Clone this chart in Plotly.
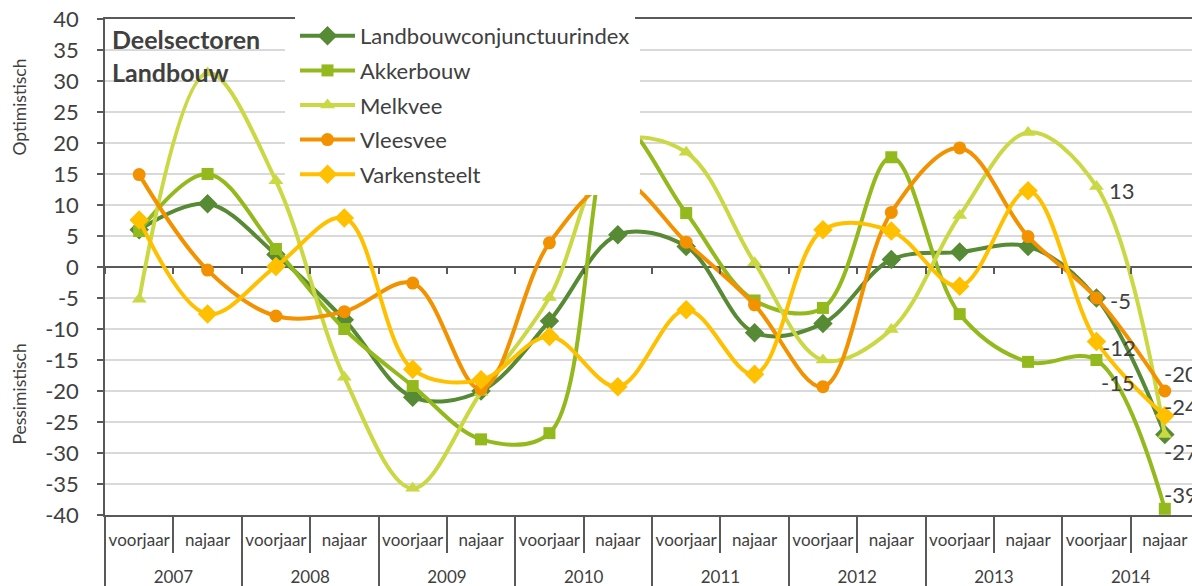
import numpy as np
import plotly.graph_objects as go

# ---------------- data ----------------
years = ["2007", "2008", "2009", "2010", "2011", "2012", "2013", "2014"]
seasons = ["voorjaar", "najaar"]

series_names = ["Landbouwconjunctuurindex", "Akkerbouw", "Melkvee", "Vleesvee", "Varkensteelt"]
landbouw = [6.0, 10.2, 2.0, -8.5, -21.0, -20.0, -8.7, 5.2, 3.3, -10.6, -9.1, 1.2, 2.4, 3.3, -5.0, -27.0]
akkerbouw = [5.8, 15.0, 2.9, -10.0, -19.2, -27.8, -26.8, 23.0, 8.7, -5.4, -6.6, 17.7, -7.6, -15.3, -15.0, -39.0]
melkvee = [-5.2, 31.3, 13.9, -17.8, -35.7, -20.2, -4.9, 20.0, 18.5, 0.7, -15.0, -10.1, 8.3, 21.7, 13.0, -27.0]
vleesvee = [14.9, -0.5, -7.9, -7.2, -2.6, -19.7, 3.9, 14.0, 4.0, -6.1, -19.3, 8.8, 19.2, 4.9, -5.0, -20.0]
varkensteelt = [7.6, -7.6, 0.1, 7.9, -16.5, -18.2, -11.2, -19.3, -6.9, -17.3, 6.0, 5.8, -3.1, 12.3, -12.0, -24.0]

y_ticks = list(range(-40, 45, 5))
y_ticktext = [str(v) for v in y_ticks]

# ---------------- styles ----------------
FONT = "Lato"
TXT = "#404040"
AX = "#595959"
GRID = "#D9D9D9"

styles = {
    "Landbouwconjunctuurindex": dict(color="#578A34", symbol="diamond", size=15),
    "Akkerbouw": dict(color="#93B91D", symbol="square", size=12),
    "Melkvee": dict(color="#C9D843", symbol="triangle-up", size=13),
    "Vleesvee": dict(color="#F39200", symbol="circle", size=13),
    "Varkensteelt": dict(color="#FFC000", symbol="diamond", size=15),
}
# value labels on the last two points: (xshift, yshift) in pixels
label_offsets = {
    "Akkerbouw": [(3, -22), (-3, 14)],
    "Melkvee": [(11, -4), (-3, -17)],
    "Vleesvee": [(12, -2), (-3, 18)],
    "Varkensteelt": [(4, -6), (-3, 9)],
}

values = dict(zip(series_names, [landbouw, akkerbouw, melkvee, vleesvee, varkensteelt]))

cats = [f"{y} {s}" for y in years for s in seasons]
cat_season = [s for y in years for s in seasons]
n = len(cats)
boundaries = list(np.arange(n + 1) - 0.5)
year_bounds = boundaries[::len(seasons)]
year_centers = [float(np.mean(np.arange(i * len(seasons), (i + 1) * len(seasons)))) for i in range(len(years))]

fig = go.Figure()
annotations = []
for name in series_names:
    st = styles[name]
    vals = values[name]
    fig.add_trace(go.Scatter(
        x=cats, y=vals, name=name, legendgroup=name, mode="lines+markers",
        line=dict(color=st["color"], width=4, shape="spline", smoothing=1.0),
        marker=dict(color=st["color"], symbol=st["symbol"], size=st["size"]),
        cliponaxis=False, hoverinfo="x+y+name",
    ))
    if name in label_offsets:
        for k, (dx, dy) in zip([n - 2, n - 1], label_offsets[name]):
            annotations.append(dict(
                x=cats[k], y=vals[k], xref="x", yref="y", text=f"{vals[k]:.0f}",
                showarrow=False, xanchor="left", yanchor="middle", xshift=dx, yshift=dy,
                font=dict(family=FONT, size=22, color=TXT)))

# helper traces (no visible marks) for the extra tick / label axes
for ax in ["x2", "x3", "x4"]:
    fig.add_trace(go.Scatter(x=[boundaries[0], boundaries[-1]], y=[None, None], mode="none",
                             xaxis=ax, showlegend=False, hoverinfo="skip"))

L, T, B = 105, 19, 71
W, H = 1199, 586
pw, ph = W - L, H - T - B

overlay = dict(overlaying="x", range=[-0.5, n - 0.5], showgrid=False, zeroline=False,
               showline=False, automargin=False)

fig.update_layout(
    width=W, height=H,
    margin=dict(l=L, r=0, t=T, b=B, pad=0, autoexpand=False),
    paper_bgcolor="white", plot_bgcolor="white",
    font=dict(family=FONT, color=TXT, size=22),
    showlegend=True,
    legend=dict(
        x=(295 - L) / pw, xanchor="left", y=1 - (15 - T) / ph, yanchor="top",
        bgcolor="white", borderwidth=0, itemwidth=55, tracegroupgap=3,
        traceorder="grouped",
        font=dict(family=FONT, size=22, color=TXT),
    ),
    xaxis=dict(
        type="category", categoryorder="array", categoryarray=cats,
        range=[-0.5, n - 0.5], tickangle=0, automargin=False,
        tickvals=cats, ticktext=cat_season, ticklabelstandoff=9,
        showline=True, linecolor=AX, linewidth=1.5, mirror=True,
        ticks="", showgrid=False, zeroline=False,
        tickfont=dict(family=FONT, size=17, color=TXT),
    ),
    # boundary ticks: long at year boundaries, short (minor) at every category boundary
    xaxis2=dict(
        anchor="y", side="bottom", tickvals=year_bounds, ticks="outside", ticklen=71,
        tickwidth=1.5, tickcolor=AX, showticklabels=False,
        minor=dict(tickvals=boundaries, ticks="outside", ticklen=37, tickwidth=1.5, tickcolor=AX),
        **overlay,
    ),
    # year labels
    xaxis3=dict(
        anchor="y", side="bottom", tickvals=year_centers, ticktext=years, ticks="",
        ticklabelstandoff=50, tickangle=0,
        tickfont=dict(family=FONT, size=17, color=TXT), **overlay,
    ),
    # small ticks on the zero line
    xaxis4=dict(
        anchor="free", position=0.5, side="bottom", tickvals=boundaries, ticks="outside",
        ticklen=6, tickwidth=1.5, tickcolor=AX, showticklabels=False, **overlay,
    ),
    yaxis=dict(
        range=[-40, 40], tickvals=y_ticks, ticktext=y_ticktext, ticks="outside",
        ticklen=6, tickwidth=1.5, automargin=False,
        tickcolor=AX, showline=True, linecolor=AX, linewidth=1.5,
        showgrid=True, gridcolor=GRID, gridwidth=1.5,
        zeroline=True, zerolinecolor=AX, zerolinewidth=1.5,
        tickfont=dict(family=FONT, size=22, color=TXT), ticklabelstandoff=14,
    ),
    shapes=[dict(type="rect", xref="paper", yref="paper",
                 x0=(285 - L) / pw, x1=(640 - L) / pw,
                 y0=(H - B - 193) / ph, y1=(H - B - 21) / ph,
                 fillcolor="white", line=dict(width=0), layer="above")],
    annotations=annotations + [
        dict(text="<b>Deelsectoren<br>Landbouw</b>", xref="paper", yref="y",
             x=(110 - L) / pw, y=39.5, xanchor="left", yanchor="top", align="left",
             showarrow=False, font=dict(family=FONT, size=25, color=TXT)),
        dict(text="Optimistisch", xref="paper", yref="y", x=(19.5 - L) / pw, y=25.8,
             textangle=-90, showarrow=False, xanchor="center", yanchor="middle",
             font=dict(family=FONT, size=17.5, color=TXT)),
        dict(text="Pessimistisch", xref="paper", yref="y", x=(19.5 - L) / pw, y=-20.5,
             textangle=-90, showarrow=False, xanchor="center", yanchor="middle",
             font=dict(family=FONT, size=17.5, color=TXT)),
    ],
)

fig.write_html("out.html", config={"displayModeBar": False},
               post_script="document.body.style.margin='0';document.body.style.overflow='hidden';")
